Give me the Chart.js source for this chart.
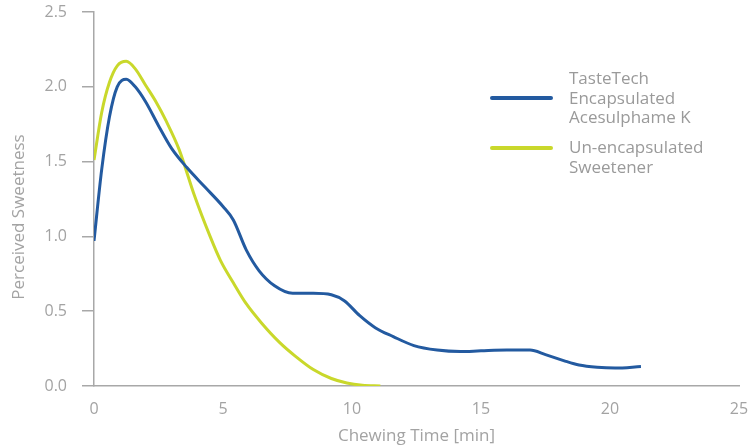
<!DOCTYPE html>
<html>
<head>
<meta charset="utf-8">
<script src="https://cdn.jsdelivr.net/npm/chart.js@4/dist/chart.umd.min.js"></script>
<style>
  html, body { margin: 0; padding: 0; background: #fff; }
  #wrap { position: relative; width: 750px; height: 446px; }
  #legend { position: absolute; left: 490px; top: 68px; font-family: "Open Sans", sans-serif; font-weight: 400; font-size: 17px; color: #9a9a9a; line-height: 19.5px; }
  .item { position: relative; padding-left: 79px; margin-bottom: 10.5px; white-space: nowrap; }
  .swatch { position: absolute; left: 0; width: 63px; height: 4px; border-radius: 2px; }
</style>
</head>
<body>
<div id="wrap">
  <canvas id="c" width="750" height="446"></canvas>
  <div id="legend"></div>
</div>
<script>
const seriesNames = ["TasteTech|Encapsulated|Acesulphame K", "Un-encapsulated|Sweetener"];
const seriesColors = ["#235aa0", "#c9d82b"];

const encapsulatedX = [0, 0.3, 0.6, 0.9, 1.25, 1.6, 2.0, 2.5, 3.0, 3.6, 4.3, 5.0, 5.4, 5.9, 6.4, 7.0, 7.7, 8.5, 9.2, 9.7, 10.3, 10.9, 11.6, 12.4, 13.3, 14.2, 15.0, 16.0, 16.9, 17.5, 18.2, 18.8, 19.5, 20.2, 21.2];
const encapsulatedY = [0.97, 1.45, 1.8, 2.0, 2.05, 2.0, 1.9, 1.74, 1.59, 1.46, 1.33, 1.2, 1.11, 0.91, 0.77, 0.67, 0.62, 0.62, 0.61, 0.57, 0.47, 0.39, 0.33, 0.27, 0.24, 0.23, 0.235, 0.24, 0.24, 0.21, 0.17, 0.14, 0.125, 0.12, 0.13];

const unencapsulatedX = [0, 0.3, 0.6, 0.9, 1.25, 1.6, 2.0, 2.4, 2.8, 3.3, 3.9, 4.5, 4.9, 5.4, 5.9, 6.5, 7.2, 7.8, 8.5, 9.2, 9.8, 10.4, 11.1];
const unencapsulatedY = [1.51, 1.83, 2.03, 2.14, 2.17, 2.12, 2.01, 1.9, 1.77, 1.58, 1.27, 1.0, 0.84, 0.69, 0.55, 0.42, 0.29, 0.2, 0.11, 0.05, 0.02, 0.005, 0];

const xTicks = [0, 5, 10, 15, 20, 25];
const yTicks = [0.0, 0.5, 1.0, 1.5, 2.0, 2.5];
const xTitle = "Chewing Time [min]";
const yTitle = "Perceived Sweetness";

function pts(xs, ys) { return xs.map((x, i) => ({ x: x, y: ys[i] })); }

const tickFont = { family: "'Open Sans', sans-serif", size: 16, weight: 400 };
const titleFont = { family: "'Open Sans', sans-serif", size: 17, weight: 400 };
const gray = "#a3a3a3";
const axisGray = "#a8a8a8";

const yTitlePlugin = {
  id: "yTitle",
  afterDraw(chart) {
    const ctx = chart.ctx;
    ctx.save();
    ctx.translate(19, 217);
    ctx.rotate(-Math.PI / 2);
    ctx.font = titleFont.weight + " " + titleFont.size + "px " + titleFont.family;
    ctx.fillStyle = gray;
    ctx.textAlign = "center";
    ctx.textBaseline = "middle";
    ctx.fillText(yTitle, 0, 0);
    ctx.restore();
  }
};

new Chart(document.getElementById("c"), {
  type: "line",
  data: {
    datasets: [
      { label: seriesNames[0].replace(/\|/g, " "), data: pts(encapsulatedX, encapsulatedY), borderColor: seriesColors[0], borderWidth: 3, pointRadius: 0, cubicInterpolationMode: "monotone", fill: false },
      { label: seriesNames[1].replace(/\|/g, " "), data: pts(unencapsulatedX, unencapsulatedY), borderColor: seriesColors[1], borderWidth: 3, pointRadius: 0, cubicInterpolationMode: "monotone", fill: false }
    ]
  },
  plugins: [yTitlePlugin],
  options: {
    responsive: false,
    animation: false,
    layout: { padding: { top: 12, right: 11, left: 0, bottom: 0 } },
    plugins: { legend: { display: false }, tooltip: { enabled: false } },
    scales: {
      x: {
        type: "linear", min: 0, max: 25,
        afterBuildTicks: s => { s.ticks = xTicks.map(v => ({ value: v })); },
        afterFit: s => { s.height = 60; s.paddingLeft = 0; s.paddingRight = 0; },
        border: { color: axisGray, width: 1.5 },
        grid: { display: true, drawOnChartArea: false, drawTicks: true, tickLength: 14, tickColor: "rgba(0,0,0,0)" },
        ticks: { color: gray, font: tickFont, padding: 0, maxRotation: 0 },
        title: { display: true, text: xTitle, color: gray, font: titleFont, padding: { top: 0, bottom: 0 } }
      },
      y: {
        type: "linear", min: 0, max: 2.5,
        afterBuildTicks: s => { s.ticks = yTicks.map(v => ({ value: v })); },
        afterFit: s => { s.width = 94; s.paddingTop = 0; s.paddingBottom = 0; },
        border: { color: axisGray, width: 1.5 },
        grid: { display: true, drawOnChartArea: false, drawTicks: true, tickLength: 12, color: axisGray, lineWidth: 1.5 },
        ticks: { color: gray, font: tickFont, padding: 15, callback: v => Number(v).toFixed(1) },
        title: { display: false }
      }
    }
  }
});

const legend = document.getElementById("legend");
seriesNames.forEach((name, i) => {
  const lines = name.split("|");
  const div = document.createElement("div");
  div.className = "item";
  const sw = document.createElement("span");
  sw.className = "swatch";
  sw.style.background = seriesColors[i];
  sw.style.top = (lines.length === 3 ? 28 : 9) + "px";
  div.appendChild(sw);
  lines.forEach(t => { const l = document.createElement("div"); l.textContent = t; div.appendChild(l); });
  legend.appendChild(div);
});
</script>
</body>
</html>
